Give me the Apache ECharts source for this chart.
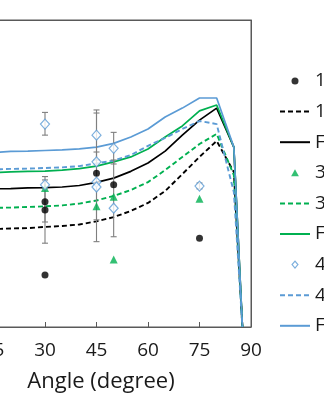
<!DOCTYPE html>
<html><head><meta charset="utf-8">
<script src="https://cdn.jsdelivr.net/npm/echarts@6/dist/echarts.min.js"></script>
<style>html,body{margin:0;padding:0;background:#fff;}#c{width:324px;height:400px;}</style>
</head><body><div id="c"></div>
<script>
// ---- data ----
const angles = [0,5,10,15,20,25,30,35,40,45,50,55,60,65,70,75,80,85,87.5];
const model1 = [31.9,31.9,31.9,31.9,32.1,32.2,32.6,32.9,33.4,34.4,35.8,37.8,40.4,44.3,49.8,55.4,60.6,50.5,0];
const fem1   = [45.0,45.0,45.0,45.0,45.1,45.3,45.4,45.6,46.1,47.1,48.5,50.7,53.4,57.3,62.5,67.4,71.3,58.6,0];
const model3 = [38.8,38.8,38.8,38.8,38.9,39.1,39.3,39.6,40.2,41.2,42.7,44.6,47.2,51.1,55.4,59.6,62.9,49.5,0];
const fem3   = [50.3,50.3,50.3,50.3,50.5,50.7,50.8,51.1,51.6,52.4,53.8,55.4,58.0,61.9,65.5,70.4,72.3,58.6,0];
const model4 = [51.3,51.3,51.3,51.3,51.5,51.6,51.8,52.0,52.4,53.3,54.2,56.0,59.0,61.6,64.5,67.1,66.1,44.0,0];
const fem4   = [56.8,56.8,56.8,56.8,57.2,57.3,57.5,57.7,58.0,58.6,59.8,61.9,64.5,68.4,71.3,74.6,74.6,58.6,0];

const test1X = [30,30,30,45,50,75];
const test1Y = [40.8,38.1,16.9,50.1,46.3,28.9];
const test3X = [30,45,50,50,75];
const test3Y = [45.3,39.3,42.4,22.0,41.8];
const test4X = [30,30,45,45,45,45,50,50,75];
const test4Y = [66.1,46.3,62.5,53.8,47.2,45.6,58.2,38.7,45.9];

const errX    = [30,30,30,45,45,45,50,50,75];
const errLow  = [62.5,27.3,34.2,54.4,27.8,34.9,53.1,29.4,45.0];
const errHigh = [69.9,49.0,47.9,70.7,69.7,57.0,63.4,54.4,46.9];

const names = ['1x Test','1x Model','FEM 1x','3x Test','3x Model','FEM 3x','4x Test','4x Model','FEM 4x'];
const xTicks = {min:0, max:90, interval:15};

// ---- build ----
const BLACK='#000000', GREEN='#00B050', BLUE='#5B9BD5', GREY='#7f7f7f', AX='#595959';
const zip = (xs, ys) => xs.map((x,i)=>[x, ys[i]]);
const lineS = (name, ys, color, dashed, w) => ({
  name, type:'line', data: zip(angles, ys), symbol:'none', z:2,
  lineStyle:{color, width:w, type: dashed ? [5,3] : 'solid'},
  itemStyle:{color}, emphasis:{disabled:true}
});
const errData = errX.map((x,i)=>[x, errLow[i], errHigh[i]]);
const TRI = 'path://M5,0 L10,9 L0,9 Z';
const DIA = 'path://M5,0 L10,6 L5,12 L0,6 Z';
const legendData = [
  {name:names[0], icon:'circle'},
  {name:names[1], itemStyle:{opacity:0}},
  {name:names[2], itemStyle:{opacity:0}},
  {name:names[3], icon:TRI},
  {name:names[4], itemStyle:{opacity:0}},
  {name:names[5], itemStyle:{opacity:0}},
  {name:names[6], icon:DIA, itemStyle:{color:'#ffffff', borderColor:BLUE, borderWidth:1.2}},
  {name:names[7], itemStyle:{opacity:0}},
  {name:names[8], itemStyle:{opacity:0}}
];

const chart = echarts.init(document.getElementById('c'), null, {renderer:'canvas'});
chart.setOption({
  animation:false,
  backgroundColor:'#fff',
  textStyle:{fontFamily:'Open Sans'},
  grid:{left:-58, right:73, top:20, bottom:73, show:true, borderColor:AX, borderWidth:1, outerBoundsMode:'none', containLabel:false},
  xAxis:[{type:'value', min:xTicks.min, max:xTicks.max, interval:xTicks.interval,
    axisLine:{show:true, lineStyle:{color:AX, width:1}},
    axisTick:{show:true, inside:true, length:5, lineStyle:{color:AX}},
    axisLabel:{show:true, color:'#1a1a1a', fontSize:19, margin:14, fontFamily:'Open Sans', showMinLabel:true, showMaxLabel:true},
    splitLine:{show:false},
    name:'Angle (degree)', nameLocation:'middle', nameGap:44,
    nameTextStyle:{color:'#1a1a1a', fontSize:22, fontFamily:'Open Sans', padding:[0,0,0,9]}
  },{type:'value', position:'top', min:xTicks.min, max:xTicks.max,
    axisLine:{show:true, onZero:false, lineStyle:{color:AX, width:1}},
    axisTick:{show:false}, axisLabel:{show:false}, splitLine:{show:false}}],
  yAxis:[{type:'value', min:0, max:100, axisLabel:{show:false}, axisTick:{show:false},
    axisLine:{show:true, lineStyle:{color:AX}}, splitLine:{show:false}},
    {type:'value', position:'right', min:0, max:100, axisLabel:{show:false}, axisTick:{show:false},
    axisLine:{show:true, onZero:false, lineStyle:{color:AX}}, splitLine:{show:false}}],
  legend:{orient:'vertical', left:279, top:71, padding:0, itemWidth:30, itemHeight:7, itemGap:10.6,
    data:legendData, selectedMode:false,
    textStyle:{fontSize:19, color:'#1a1a1a', lineHeight:20, fontFamily:'Open Sans'}},
  series:[
    lineS(names[1], model1, BLACK, true, 1.9),
    lineS(names[2], fem1, BLACK, false, 1.7),
    lineS(names[4], model3, GREEN, true, 1.9),
    lineS(names[5], fem3, GREEN, false, 1.7),
    lineS(names[7], model4, BLUE, true, 1.9),
    lineS(names[8], fem4, BLUE, false, 1.7),
    {type:'custom', name:'err', data:errData, z:3, encode:{x:0, y:[1,2]},
      renderItem:function(params, api){
        const x = api.value(0);
        const lo = api.coord([x, api.value(1)]);
        const hi = api.coord([x, api.value(2)]);
        const w = 3;
        const style = {stroke:GREY, lineWidth:1.1};
        return {type:'group', children:[
          {type:'line', shape:{x1:lo[0],y1:lo[1],x2:hi[0],y2:hi[1]}, style},
          {type:'line', shape:{x1:lo[0]-w,y1:lo[1],x2:lo[0]+w,y2:lo[1]}, style},
          {type:'line', shape:{x1:hi[0]-w,y1:hi[1],x2:hi[0]+w,y2:hi[1]}, style}
        ]};
      }},
    {name:names[0], type:'scatter', data:zip(test1X,test1Y), symbol:'circle', symbolSize:7, z:4,
      itemStyle:{color:BLACK}},
    {name:names[3], type:'scatter', data:zip(test3X,test3Y), symbol:'triangle', symbolSize:8, z:4,
      itemStyle:{color:GREEN}},
    {name:names[6], type:'scatter', data:zip(test4X,test4Y), symbol:'diamond', symbolSize:[9,10], z:4,
      itemStyle:{color:'#ffffff', borderColor:BLUE, borderWidth:1.2}}
  ]
});
</script></body></html>
